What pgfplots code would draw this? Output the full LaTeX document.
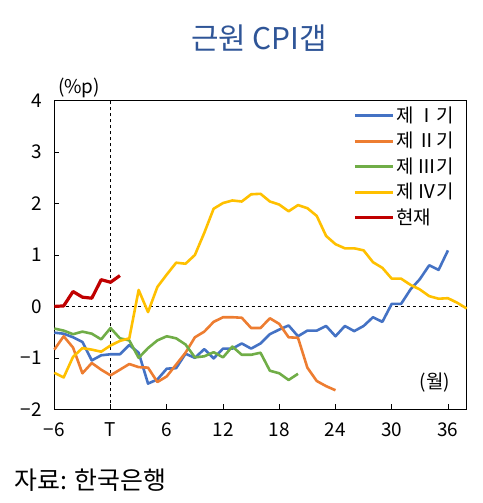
\documentclass[border=0pt]{standalone}
\usepackage{pgfplots}
\pgfplotsset{compat=1.18}
\usepackage{fontspec}
\setmainfont{Noto Sans CJK KR}
\definecolor{cI}{HTML}{4472C4}
\definecolor{cII}{HTML}{ED7D31}
\definecolor{cIII}{HTML}{70AD47}
\definecolor{cIV}{HTML}{FFC000}
\definecolor{cNow}{HTML}{C00000}
\definecolor{ttl}{HTML}{2F5597}
\begin{document}
\begin{tikzpicture}[x=1bp,y=1bp]
\path[use as bounding box] (0,0) rectangle (483,503);
\begin{axis}[
  at={(54.3bp,93.7bp)}, anchor=south west,
  scale only axis, width=412.4bp, height=308.6bp,
  xmin=-6, xmax=38, ymin=-2, ymax=4,
  xtick={-6,0,6,12,18,24,30,36},
  xticklabels={−6,T,6,12,18,24,30,36},
  ytick={-2,-1,0,1,2,3,4},
  yticklabels={−2,−1,0,1,2,3,4},
  /pgf/number format/assume math mode=true,
  tick align=inside, xtick pos=bottom, ytick pos=left,
  major tick length=5bp,
  tick style={black, line width=0.6bp},
  axis line style={line width=1.1bp},
  ticklabel style={font=\fontsize{19}{19}\selectfont},
  yticklabel style={xshift=-9bp},
  xticklabel style={yshift=-10bp},
  legend style={draw=none, fill=none, at={(0.975,0.985)}, anchor=north east,
    font=\fontsize{19}{19}\selectfont, row sep=5bp, inner sep=0pt,
    /tikz/every even column/.append style={text height=15bp, text depth=4bp, inner sep=1bp}},
  legend cell align=left,
  legend image code/.code={\draw[line width=2.6bp,#1] (0bp,0bp) -- (38bp,0bp);},
  every axis plot/.append style={line width=2.6bp, line join=round},
  clip=false,
]
\draw[dashed, line width=0.7bp] (axis cs:0,-2) -- (axis cs:0,4);
\draw[dashed, line width=1bp] (axis cs:-6,0) -- (axis cs:38,0);
\addplot[cI] coordinates {(-6,-0.51)(-5,-0.53)(-4,-0.60)(-3,-0.69)(-2,-1.05)(-1,-0.95)(0,-0.93)(1,-0.93)(2,-0.75)(3,-0.90)(4,-1.50)(5,-1.42)(6,-1.21)(7,-1.20)(8,-0.92)(9,-1.00)(10,-0.83)(11,-1.01)(12,-0.82)(13,-0.82)(14,-0.72)(15,-0.82)(16,-0.72)(17,-0.54)(18,-0.45)(19,-0.37)(20,-0.58)(21,-0.47)(22,-0.47)(23,-0.38)(24,-0.58)(25,-0.38)(26,-0.48)(27,-0.38)(28,-0.21)(29,-0.30)(30,0.05)(31,0.05)(32,0.33)(33,0.53)(34,0.80)(35,0.71)(36,1.09)};
\addlegendentry{제 Ⅰ기}
\addplot[cII] coordinates {(-6,-0.84)(-5,-0.58)(-4,-0.80)(-3,-1.30)(-2,-1.10)(-1,-1.23)(0,-1.34)(1,-1.23)(2,-1.12)(3,-1.18)(4,-1.19)(5,-1.47)(6,-1.36)(7,-1.13)(8,-0.90)(9,-0.60)(10,-0.49)(11,-0.30)(12,-0.21)(13,-0.21)(14,-0.22)(15,-0.42)(16,-0.42)(17,-0.23)(18,-0.34)(19,-0.60)(20,-0.61)(21,-1.19)(22,-1.45)(23,-1.55)(24,-1.63)};
\addlegendentry{제 Ⅱ기}
\addplot[cIII] coordinates {(-6,-0.43)(-5,-0.47)(-4,-0.54)(-3,-0.49)(-2,-0.53)(-1,-0.64)(0,-0.42)(1,-0.62)(2,-0.66)(3,-1.00)(4,-0.81)(5,-0.66)(6,-0.58)(7,-0.62)(8,-0.74)(9,-0.99)(10,-0.97)(11,-0.89)(12,-0.99)(13,-0.78)(14,-0.94)(15,-0.94)(16,-0.90)(17,-1.25)(18,-1.30)(19,-1.43)(20,-1.31)};
\addlegendentry{제 Ⅲ기}
\addplot[cIV] coordinates {(-6,-1.29)(-5,-1.38)(-4,-0.98)(-3,-0.81)(-2,-0.84)(-1,-0.88)(0,-0.76)(1,-0.67)(2,-0.62)(3,0.32)(4,-0.11)(5,0.38)(6,0.62)(7,0.85)(8,0.83)(9,1.00)(10,1.43)(11,1.90)(12,2.01)(13,2.06)(14,2.04)(15,2.18)(16,2.19)(17,2.04)(18,1.98)(19,1.85)(20,1.97)(21,1.91)(22,1.76)(23,1.37)(24,1.21)(25,1.13)(26,1.13)(27,1.09)(28,0.86)(29,0.75)(30,0.54)(31,0.54)(32,0.42)(33,0.33)(34,0.20)(35,0.15)(36,0.16)(37,0.07)(38,-0.04)};
\addlegendentry{제 Ⅳ기}
\addplot[cNow, line width=3.2bp] coordinates {(-6,0.00)(-5,0.01)(-4,0.29)(-3,0.18)(-2,0.16)(-1,0.52)(0,0.47)(1,0.60)};
\addlegendentry{현재}
\end{axis}
\node[text=ttl, font=\fontsize{30}{30}\selectfont] at (259,465) {근원 CPI갭};
\node[font=\fontsize{19}{19}\selectfont] at (79,415) {(\%p)};
\node[font=\fontsize{19}{19}\selectfont] at (435,120) {(월)};
\node[anchor=west, font=\fontsize{25}{25}\selectfont, inner sep=0pt] at (14,23) {자료: 한국은행};
\end{tikzpicture}
\end{document}
